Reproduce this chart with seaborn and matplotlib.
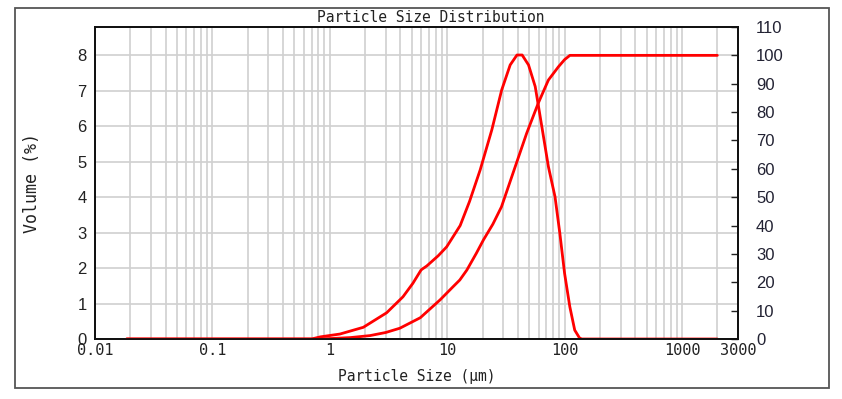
import numpy as np
import pandas as pd
import matplotlib
matplotlib.use("Agg")
import matplotlib.pyplot as plt
import matplotlib.ticker as mticker
from matplotlib.patches import Rectangle
import seaborn as sns

# volume frequency curve (left axis, %)
freq_size = [0.0186, 0.7, 0.83, 1.22, 1.93, 3.05, 4.2, 5.1, 6.0, 6.7, 8.4, 9.9, 12.9, 15.5,
             19.1, 24.0, 29.1, 34.4, 39.3, 43.5, 49.3, 56.2, 64.0, 72.8, 82.9, 91.1, 100,
             110.8, 122, 134, 140, 2000]
freq_vol = [0, 0, 0.06, 0.14, 0.33, 0.74, 1.19, 1.57, 1.95, 2.06, 2.35, 2.6, 3.2, 3.88,
            4.77, 5.9, 7.02, 7.73, 8.01, 8.01, 7.73, 7.12, 5.99, 4.86, 4.01, 2.98, 1.85,
            0.91, 0.25, 0.03, 0, 0]

# cumulative curve (right axis, %)
cum_size = [0.0186, 0.75, 1.07, 1.5, 2.2, 3.0, 3.95, 5.9, 8.7, 11.2, 12.8, 14.7, 17.7, 20.4,
            24.5, 29, 38, 47.5, 59.6, 72.8, 88.7, 100, 111, 2000]
cum_vol = [0, 0, 0.2, 0.5, 1.2, 2.3, 3.8, 7.5, 13.8, 18.4, 20.8, 24.3, 30.2, 35,
           40.5, 46.6, 60.8, 72.5, 83.1, 91.3, 96, 98.5, 100, 100]

x_ticks = [0.01, 0.1, 1, 10, 100, 1000, 3000]
x_labels = ["0.01", "0.1", "1", "10", "100", "1000", "3000"]
left_ticks = [0, 1, 2, 3, 4, 5, 6, 7, 8]
right_ticks = [0, 10, 20, 30, 40, 50, 60, 70, 80, 90, 100, 110]

freq_df = pd.DataFrame({"size": freq_size, "vol": freq_vol})
cum_df = pd.DataFrame({"size": cum_size, "vol": cum_vol})

sns.set_style("white")
mono = "DejaVu Sans Mono"
sans = "Liberation Sans"

fig = plt.figure(figsize=(8.42, 3.99), dpi=100)
ax = fig.add_axes([95 / 842, 1 - 339 / 399, 643 / 842, 312 / 399])
ax2 = ax.twinx()

# outer frame
fig.patches.append(Rectangle((15 / 842, 1 - 388 / 399), 814 / 842, 380 / 399,
                             transform=fig.transFigure, fill=False,
                             edgecolor="#555555", lw=1.3))

sns.lineplot(data=freq_df, x="size", y="vol", ax=ax, color="#ff0000", lw=2.0)
sns.lineplot(data=cum_df, x="size", y="vol", ax=ax2, color="#ff0000", lw=2.0)

ax.set_xscale("log")
ax.set_xlim(0.01, 3000)
ax.set_ylim(0, 8.8)
ax2.set_ylim(0, 110)

ax.xaxis.set_major_locator(mticker.FixedLocator(x_ticks))
ax.xaxis.set_major_formatter(mticker.FixedFormatter(x_labels))
ax.xaxis.set_minor_locator(mticker.LogLocator(base=10, subs=np.arange(2, 10)))
ax.xaxis.set_minor_formatter(mticker.NullFormatter())
ax.set_yticks(left_ticks)
ax2.set_yticks(right_ticks)

ax.grid(True, which="both", axis="x", color="#d0d0d0", lw=1.2)
ax.grid(True, which="major", axis="y", color="#d0d0d0", lw=1.2)
ax.set_axisbelow(True)

ax.tick_params(axis="x", which="both", length=0, pad=3, labelsize=11, labelcolor="#222222")
for t in ax.get_xticklabels():
    t.set_fontfamily(mono)
ax.tick_params(axis="y", length=0, pad=6, labelsize=12, labelcolor="#222222")
for t in ax.get_yticklabels():
    t.set_fontfamily(sans)
ax2.tick_params(axis="y", direction="in", length=5, width=1, color="#222222",
                pad=13, labelsize=12, labelcolor="#222233")
for t in ax2.get_yticklabels():
    t.set_fontfamily(sans)

for a in (ax, ax2):
    for s in a.spines.values():
        s.set_color("#111111")
        s.set_linewidth(1.3)

ax.set_xlabel("Particle Size (µm)", fontfamily=mono, fontsize=10.5, color="#222222")
ax.set_ylabel("Volume (%)", fontfamily=mono, fontsize=12, color="#222222")
ax2.set_ylabel("")
ax.xaxis.set_label_coords(0.5, -0.096)
ax.yaxis.set_label_coords(-0.084, 0.5)

fig.text(0.512, 1 - 18 / 399, "Particle Size Distribution", ha="center", va="center",
         fontfamily=mono, fontsize=10.5, color="#222222")

fig.savefig("out.png", dpi=100)
